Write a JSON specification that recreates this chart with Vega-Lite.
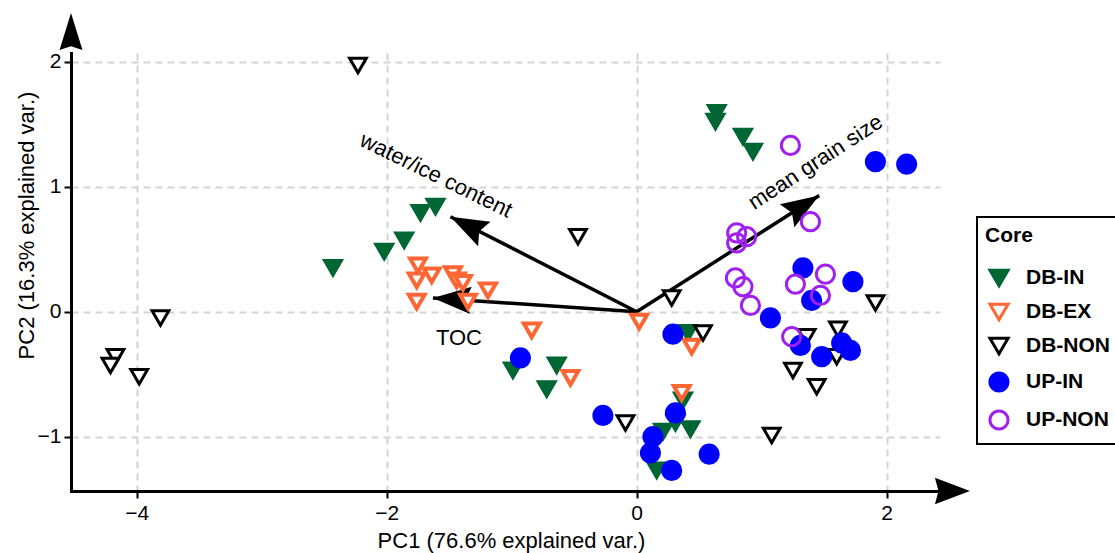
{
  "$schema": "https://vega.github.io/schema/vega-lite/v6.json",
  "width": 869,
  "height": 438,
  "autosize": "none",
  "padding": {"left": 71, "top": 53, "right": 175, "bottom": 62},
  "background": "white",
  "datasets": {
    "scores": [
      {"PC1": -2.43, "PC2": 0.35, "Core": "DB-IN"},
      {"PC1": -2.02, "PC2": 0.48, "Core": "DB-IN"},
      {"PC1": -1.86, "PC2": 0.57, "Core": "DB-IN"},
      {"PC1": -1.73, "PC2": 0.79, "Core": "DB-IN"},
      {"PC1": -1.61, "PC2": 0.84, "Core": "DB-IN"},
      {"PC1": -0.99, "PC2": -0.47, "Core": "DB-IN"},
      {"PC1": -0.64, "PC2": -0.43, "Core": "DB-IN"},
      {"PC1": -0.72, "PC2": -0.62, "Core": "DB-IN"},
      {"PC1": 0.41, "PC2": -0.17, "Core": "DB-IN"},
      {"PC1": 0.37, "PC2": -0.71, "Core": "DB-IN"},
      {"PC1": 0.31, "PC2": -0.89, "Core": "DB-IN"},
      {"PC1": 0.43, "PC2": -0.94, "Core": "DB-IN"},
      {"PC1": 0.21, "PC2": -0.96, "Core": "DB-IN"},
      {"PC1": 0.16, "PC2": -1.27, "Core": "DB-IN"},
      {"PC1": 0.64, "PC2": 1.59, "Core": "DB-IN"},
      {"PC1": 0.63, "PC2": 1.52, "Core": "DB-IN"},
      {"PC1": 0.85, "PC2": 1.40, "Core": "DB-IN"},
      {"PC1": 0.93, "PC2": 1.28, "Core": "DB-IN"},
      {"PC1": -1.75, "PC2": 0.37, "Core": "DB-EX"},
      {"PC1": -1.64, "PC2": 0.29, "Core": "DB-EX"},
      {"PC1": -1.76, "PC2": 0.25, "Core": "DB-EX"},
      {"PC1": -1.76, "PC2": 0.08, "Core": "DB-EX"},
      {"PC1": -1.47, "PC2": 0.30, "Core": "DB-EX"},
      {"PC1": -1.44, "PC2": 0.25, "Core": "DB-EX"},
      {"PC1": -1.39, "PC2": 0.23, "Core": "DB-EX"},
      {"PC1": -1.35, "PC2": 0.08, "Core": "DB-EX"},
      {"PC1": -1.19, "PC2": 0.17, "Core": "DB-EX"},
      {"PC1": -0.84, "PC2": -0.15, "Core": "DB-EX"},
      {"PC1": 0.02, "PC2": -0.08, "Core": "DB-EX"},
      {"PC1": -0.53, "PC2": -0.53, "Core": "DB-EX"},
      {"PC1": 0.44, "PC2": -0.28, "Core": "DB-EX"},
      {"PC1": 0.36, "PC2": -0.65, "Core": "DB-EX"},
      {"PC1": -2.23, "PC2": 1.97, "Core": "DB-NON"},
      {"PC1": -0.47, "PC2": 0.60, "Core": "DB-NON"},
      {"PC1": 0.28, "PC2": 0.11, "Core": "DB-NON"},
      {"PC1": 0.53, "PC2": -0.17, "Core": "DB-NON"},
      {"PC1": -0.09, "PC2": -0.89, "Core": "DB-NON"},
      {"PC1": 1.08, "PC2": -0.99, "Core": "DB-NON"},
      {"PC1": 1.25, "PC2": -0.47, "Core": "DB-NON"},
      {"PC1": 1.44, "PC2": -0.60, "Core": "DB-NON"},
      {"PC1": 1.36, "PC2": -0.20, "Core": "DB-NON"},
      {"PC1": 1.61, "PC2": -0.14, "Core": "DB-NON"},
      {"PC1": 1.60, "PC2": -0.36, "Core": "DB-NON"},
      {"PC1": 1.91, "PC2": 0.07, "Core": "DB-NON"},
      {"PC1": -3.81, "PC2": -0.05, "Core": "DB-NON"},
      {"PC1": -4.17, "PC2": -0.36, "Core": "DB-NON"},
      {"PC1": -4.21, "PC2": -0.43, "Core": "DB-NON"},
      {"PC1": -3.98, "PC2": -0.52, "Core": "DB-NON"},
      {"PC1": -0.93, "PC2": -0.37, "Core": "UP-IN"},
      {"PC1": -0.27, "PC2": -0.83, "Core": "UP-IN"},
      {"PC1": 0.29, "PC2": -0.18, "Core": "UP-IN"},
      {"PC1": 0.31, "PC2": -0.81, "Core": "UP-IN"},
      {"PC1": 0.13, "PC2": -1.00, "Core": "UP-IN"},
      {"PC1": 0.11, "PC2": -1.13, "Core": "UP-IN"},
      {"PC1": 0.28, "PC2": -1.27, "Core": "UP-IN"},
      {"PC1": 0.58, "PC2": -1.14, "Core": "UP-IN"},
      {"PC1": 1.91, "PC2": 1.20, "Core": "UP-IN"},
      {"PC1": 2.16, "PC2": 1.18, "Core": "UP-IN"},
      {"PC1": 1.33, "PC2": 0.35, "Core": "UP-IN"},
      {"PC1": 1.73, "PC2": 0.24, "Core": "UP-IN"},
      {"PC1": 1.07, "PC2": -0.05, "Core": "UP-IN"},
      {"PC1": 1.40, "PC2": 0.09, "Core": "UP-IN"},
      {"PC1": 1.31, "PC2": -0.27, "Core": "UP-IN"},
      {"PC1": 1.48, "PC2": -0.36, "Core": "UP-IN"},
      {"PC1": 1.64, "PC2": -0.25, "Core": "UP-IN"},
      {"PC1": 1.71, "PC2": -0.31, "Core": "UP-IN"},
      {"PC1": 1.23, "PC2": 1.33, "Core": "UP-NON"},
      {"PC1": 1.39, "PC2": 0.72, "Core": "UP-NON"},
      {"PC1": 0.80, "PC2": 0.63, "Core": "UP-NON"},
      {"PC1": 0.88, "PC2": 0.60, "Core": "UP-NON"},
      {"PC1": 0.80, "PC2": 0.55, "Core": "UP-NON"},
      {"PC1": 0.79, "PC2": 0.27, "Core": "UP-NON"},
      {"PC1": 0.85, "PC2": 0.20, "Core": "UP-NON"},
      {"PC1": 0.91, "PC2": 0.05, "Core": "UP-NON"},
      {"PC1": 1.27, "PC2": 0.22, "Core": "UP-NON"},
      {"PC1": 1.51, "PC2": 0.30, "Core": "UP-NON"},
      {"PC1": 1.47, "PC2": 0.13, "Core": "UP-NON"},
      {"PC1": 1.24, "PC2": -0.20, "Core": "UP-NON"}
    ],
    "loadings": [
      {"var": "water/ice content", "PC1": -1.49, "PC2": 0.76},
      {"var": "mean grain size", "PC1": 1.46, "PC2": 0.93},
      {"var": "TOC", "PC1": -1.63, "PC2": 0.11}
    ]
  },
  "layer": [
    {
      "data": {"name": "loadings"},
      "mark": {"type": "rule", "color": "black", "strokeWidth": 3.5},
      "encoding": {
        "x": {
          "field": "PC1", "type": "quantitative",
          "scale": {"domain": [-4.5256, 2.4264], "nice": false, "zero": false},
          "axis": {
            "title": "PC1 (76.6% explained var.)",
            "values": [-4, -2, 0, 2],
            "format": "d",
            "titleX": 440,
            "titleY": 39,
            "titleBaseline": "top",
            "titleAlign": "center",
            "labelPadding": 4
          }
        },
        "y": {
          "field": "PC2", "type": "quantitative",
          "scale": {"domain": [-1.4344, 2.0696], "nice": false, "zero": false},
          "axis": {
            "title": "PC2 (16.3% explained var.)",
            "values": [-1, 0, 1, 2],
            "format": "d",
            "titleX": -33,
            "titleY": 172,
            "titleAngle": -90,
            "titleAlign": "center",
            "titleBaseline": "bottom",
            "labelPadding": 3
          }
        },
        "x2": {"datum": 0},
        "y2": {"datum": 0}
      }
    },
    {
      "data": {"values": [{"a": 1}]},
      "mark": {"type": "point", "shape": "M0,0L0.38,1L0,0.9L-0.38,1Z", "filled": true, "color": "black", "opacity": 1, "size": 4900, "angle": 90},
      "encoding": {
        "x": {"datum": 2.666, "type": "quantitative", "scale": {"domain": [-4.5256, 2.4264], "nice": false, "zero": false}},
        "y": {"datum": -1.4344, "type": "quantitative", "scale": {"domain": [-1.4344, 2.0696], "nice": false, "zero": false}}
      }
    },
    {
      "data": {"values": [{"a": 1}]},
      "mark": {"type": "point", "shape": "M0,0L0.31,1L0,0.9L-0.31,1Z", "filled": true, "color": "black", "opacity": 1, "size": 5476, "angle": 0},
      "encoding": {
        "x": {"datum": -4.5256, "type": "quantitative", "scale": {"domain": [-4.5256, 2.4264], "nice": false, "zero": false}},
        "y": {"datum": 2.39, "type": "quantitative", "scale": {"domain": [-1.4344, 2.0696], "nice": false, "zero": false}}
      }
    },
    {
      "data": {"name": "loadings"},
      "transform": [{"filter": "datum.var == 'water/ice content'"}],
      "mark": {"type": "point", "shape": "M0,0L0.36,1L0,0.85L-0.36,1Z", "filled": true, "color": "black", "opacity": 1, "size": 5776, "angle": 297},
      "encoding": {"x": {"field": "PC1", "type": "quantitative"}, "y": {"field": "PC2", "type": "quantitative"}}
    },
    {
      "data": {"name": "loadings"},
      "transform": [{"filter": "datum.var == 'mean grain size'"}],
      "mark": {"type": "point", "shape": "M0,0L0.36,1L0,0.85L-0.36,1Z", "filled": true, "color": "black", "opacity": 1, "size": 5776, "angle": 57.7},
      "encoding": {"x": {"field": "PC1", "type": "quantitative"}, "y": {"field": "PC2", "type": "quantitative"}}
    },
    {
      "data": {"name": "loadings"},
      "transform": [{"filter": "datum.var == 'TOC'"}],
      "mark": {"type": "point", "shape": "M0,0L0.36,1L0,0.85L-0.36,1Z", "filled": true, "color": "black", "opacity": 1, "size": 5776, "angle": 273.6},
      "encoding": {"x": {"field": "PC1", "type": "quantitative"}, "y": {"field": "PC2", "type": "quantitative"}}
    },
    {
      "data": {"name": "scores"},
      "transform": [{"filter": "datum.Core == 'DB-IN'"}],
      "mark": {"type": "point", "opacity": 1, "size": 290, "strokeWidth": 3},
      "encoding": {
        "x": {"field": "PC1", "type": "quantitative"},
        "y": {"field": "PC2", "type": "quantitative"},
        "shape": {"field": "Core", "type": "nominal", "title": "Core", "scale": {"domain": ["DB-IN", "DB-EX", "DB-NON", "UP-IN", "UP-NON"], "range": ["triangle-down", "triangle-down", "triangle-down", "circle", "circle"]}},
        "stroke": {"field": "Core", "type": "nominal", "title": "Core", "scale": {"domain": ["DB-IN", "DB-EX", "DB-NON", "UP-IN", "UP-NON"], "range": ["#006633", "#FF6633", "#000000", "#0000FF", "#A020F0"]}},
        "fill": {"field": "Core", "type": "nominal", "title": "Core", "scale": {"domain": ["DB-IN", "DB-EX", "DB-NON", "UP-IN", "UP-NON"], "range": ["#006633", "#FFFFFF", "#FFFFFF", "#0000FF", "transparent"]}}
      }
    },
    {
      "data": {"name": "scores"},
      "transform": [{"filter": "datum.Core == 'DB-EX'"}],
      "mark": {"type": "point", "opacity": 1, "size": 250, "strokeWidth": 4},
      "encoding": {
        "x": {"field": "PC1", "type": "quantitative"},
        "y": {"field": "PC2", "type": "quantitative"},
        "shape": {"field": "Core", "type": "nominal", "title": "Core"},
        "stroke": {"field": "Core", "type": "nominal", "title": "Core"},
        "fill": {"field": "Core", "type": "nominal", "title": "Core"}
      }
    },
    {
      "data": {"name": "scores"},
      "transform": [{"filter": "datum.Core == 'DB-NON'"}],
      "mark": {"type": "point", "opacity": 1, "size": 280, "strokeWidth": 3},
      "encoding": {
        "x": {"field": "PC1", "type": "quantitative"},
        "y": {"field": "PC2", "type": "quantitative"},
        "shape": {"field": "Core", "type": "nominal", "title": "Core"},
        "stroke": {"field": "Core", "type": "nominal", "title": "Core"},
        "fill": {"field": "Core", "type": "nominal", "title": "Core"}
      }
    },
    {
      "data": {"name": "scores"},
      "transform": [{"filter": "indexof(['UP-IN','UP-NON'], datum.Core) >= 0"}],
      "mark": {"type": "point", "opacity": 1, "size": 330, "strokeWidth": 3},
      "encoding": {
        "x": {"field": "PC1", "type": "quantitative"},
        "y": {"field": "PC2", "type": "quantitative"},
        "shape": {"field": "Core", "type": "nominal", "title": "Core"},
        "stroke": {"field": "Core", "type": "nominal", "title": "Core"},
        "fill": {"field": "Core", "type": "nominal", "title": "Core"}
      }
    },
    {
      "data": {"name": "loadings"},
      "transform": [{"filter": "datum.var == 'water/ice content'"}],
      "mark": {"type": "text", "font": "Liberation Sans", "fontSize": 22, "color": "black", "align": "center", "baseline": "middle", "angle": 26, "dx": -31, "dy": -31},
      "encoding": {"x": {"field": "PC1", "type": "quantitative"}, "y": {"field": "PC2", "type": "quantitative"}, "text": {"field": "var", "type": "nominal"}}
    },
    {
      "data": {"name": "loadings"},
      "transform": [{"filter": "datum.var == 'mean grain size'"}],
      "mark": {"type": "text", "font": "Liberation Sans", "fontSize": 22, "color": "black", "align": "center", "baseline": "middle", "angle": -33, "dx": 15, "dy": -30},
      "encoding": {"x": {"field": "PC1", "type": "quantitative"}, "y": {"field": "PC2", "type": "quantitative"}, "text": {"field": "var", "type": "nominal"}}
    },
    {
      "data": {"name": "loadings"},
      "transform": [{"filter": "datum.var == 'TOC'"}],
      "mark": {"type": "text", "font": "Liberation Sans", "fontSize": 22, "color": "black", "align": "center", "baseline": "middle", "dx": 26, "dy": 40},
      "encoding": {"x": {"field": "PC1", "type": "quantitative"}, "y": {"field": "PC2", "type": "quantitative"}, "text": {"field": "var", "type": "nominal"}}
    }
  ],
  "config": {
    "view": {"stroke": null},
    "font": "Liberation Sans",
    "axis": {
      "domain": true,
      "domainColor": "black",
      "domainWidth": 3,
      "domainCap": "square",
      "grid": true,
      "gridColor": "#d4d4d4",
      "gridWidth": 2,
      "gridDash": [7, 5],
      "ticks": true,
      "tickColor": "black",
      "tickWidth": 2,
      "tickSize": 7,
      "labelFont": "Liberation Sans",
      "labelFontSize": 21,
      "labelColor": "black",
      "titleFont": "Liberation Sans",
      "titleFontSize": 22,
      "titleFontWeight": "normal",
      "titleColor": "black"
    },
    "legend": {
      "orient": "none",
      "legendX": 906,
      "legendY": 164,
      "strokeColor": "black",
      "strokeWidth": 2,
      "fillColor": "white",
      "padding": 8,
      "titleFont": "Liberation Sans",
      "titleFontSize": 21,
      "titleFontWeight": "bold",
      "titleColor": "black",
      "titlePadding": 21,
      "labelFont": "Liberation Sans",
      "labelFontSize": 21,
      "labelFontWeight": "bold",
      "labelColor": "black",
      "labelOffset": 16,
      "symbolOffset": 3,
      "symbolSize": 330,
      "symbolStrokeWidth": 3,
      "rowPadding": 6
    }
  }
}
